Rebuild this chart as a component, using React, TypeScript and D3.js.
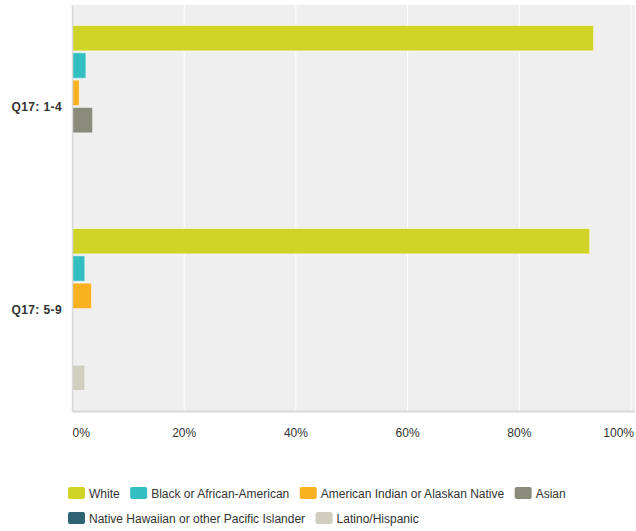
import React, { useEffect, useRef } from 'react';
import * as d3 from 'd3';

const groups = ['Q17: 1-4', 'Q17: 5-9'];
const seriesNames = [
  'White',
  'Black or African-American',
  'American Indian or Alaskan Native',
  'Asian',
  'Native Hawaiian or other Pacific Islander',
  'Latino/Hispanic',
];
const seriesColors = ['#cfd427', '#33bfc1', '#f9b120', '#8a8b7a', '#2e6373', '#d0cfbf'];
// percent values per series, one per group
const white = [93.3, 92.6];
const black = [2.4, 2.2];
const amIndian = [1.2, 3.4];
const asian = [3.6, 0];
const hawaiian = [0, 0];
const latino = [0, 2.2];
const seriesValues = [white, black, amIndian, asian, hawaiian, latino];
const tickValues = [0, 20, 40, 60, 80, 100];

const W = 636;
const H = 531;
const FONT = '"Liberation Sans", Arial, sans-serif';

export default function App() {
  const ref = useRef<SVGSVGElement>(null);

  useEffect(() => {
    if (!ref.current) return;
    const svg = d3.select(ref.current);
    svg.selectAll('*').remove();

    const left = 72.5;
    const right = 631;
    const top = 5;
    const bottom = 411;

    const x = d3.scaleLinear().domain([0, 100]).range([left, right]);
    const y0 = d3.scaleBand<string>().domain(groups).range([top, bottom]);
    const inner = d3
      .scaleBand<string>()
      .domain(seriesNames)
      .range([20.5, y0.bandwidth() - 20.5])
      .paddingInner(0.07);

    // plot background
    svg.append('rect')
      .attr('x', left)
      .attr('y', top)
      .attr('width', 635 - left)
      .attr('height', bottom - top)
      .attr('fill', '#efefef');

    // gridlines
    svg.append('g')
      .selectAll('line')
      .data(tickValues.slice(1))
      .enter()
      .append('line')
      .attr('x1', (d) => x(d))
      .attr('x2', (d) => x(d))
      .attr('y1', top)
      .attr('y2', bottom)
      .attr('stroke', '#ffffff')
      .attr('stroke-width', 1);

    // bars
    groups.forEach((g, gi) => {
      seriesNames.forEach((s, si) => {
        const v = seriesValues[si][gi];
        if (!v) return;
        svg.append('rect')
          .attr('x', x(0))
          .attr('y', (y0(g) || 0) + (inner(s) || 0))
          .attr('width', x(v) - x(0))
          .attr('height', inner.bandwidth())
          .attr('fill', seriesColors[si])
          .attr('stroke', 'rgba(255,255,255,0.5)')
          .attr('stroke-width', 1);
      });
    });

    // axis lines
    svg.append('line')
      .attr('x1', left).attr('x2', 635)
      .attr('y1', bottom + 0.5).attr('y2', bottom + 0.5)
      .attr('stroke', '#d8d8d8').attr('stroke-width', 2);
    svg.append('line')
      .attr('x1', left).attr('x2', left)
      .attr('y1', top).attr('y2', bottom)
      .attr('stroke', '#d8d8d8').attr('stroke-width', 1.5);

    // category labels
    svg.append('g')
      .selectAll('text')
      .data(groups)
      .enter()
      .append('text')
      .attr('x', 62)
      .attr('y', (d) => (y0(d) || 0) + y0.bandwidth() / 2 + 4)
      .attr('text-anchor', 'end')
      .attr('font-family', FONT)
      .attr('font-size', 12)
      .attr('letter-spacing', 0.4)
      .attr('font-weight', 'bold')
      .attr('fill', '#333')
      .text((d) => d);

    // tick labels
    svg.append('g')
      .selectAll('text')
      .data(tickValues)
      .enter()
      .append('text')
      .attr('x', (d) => (d === 0 ? x(d) : d === 100 ? 634 : x(d)))
      .attr('y', 437)
      .attr('text-anchor', (d) => (d === 0 ? 'start' : d === 100 ? 'end' : 'middle'))
      .attr('font-family', FONT)
      .attr('font-size', 12)
      .attr('fill', '#333')
      .text((d) => `${d}%`);

    // legend, flowing
    const legend = svg.append('g');
    let lx = 68;
    let ly = 493;
    seriesNames.forEach((s, i) => {
      const item = legend.append('g');
      item.append('rect')
        .attr('y', -6)
        .attr('width', 17)
        .attr('height', 12)
        .attr('rx', 2)
        .attr('fill', seriesColors[i]);
      const t = item.append('text')
        .attr('x', 21)
        .attr('y', 4.5)
        .attr('font-family', FONT)
        .attr('font-size', 12)
        .attr('fill', '#333')
        .text(s);
      const tw = (t.node() as SVGTextElement).getComputedTextLength();
      const w = 21 + tw;
      if (lx + w > 630) {
        lx = 68;
        ly += 25;
      }
      item.attr('transform', `translate(${lx},${ly})`);
      lx += w + 10.5;
    });
  }, []);

  return (
    <svg ref={ref} width={W} height={H} style={{ position: 'absolute', left: 0, top: 0 }} />
  );
}
